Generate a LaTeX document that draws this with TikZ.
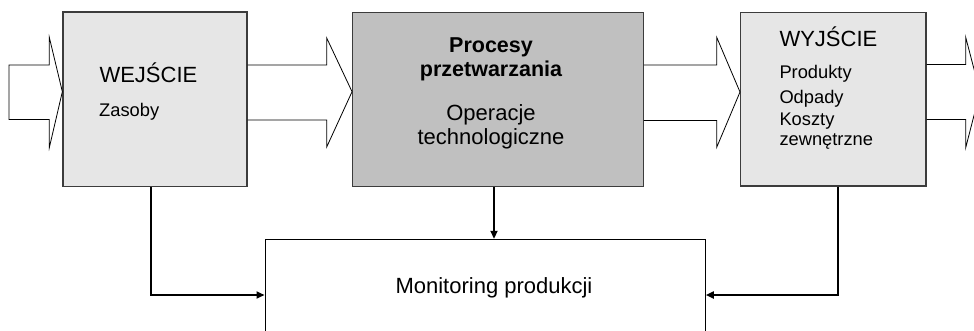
\documentclass[tikz,border=0pt]{standalone}
\usepackage{fontspec}
\setmainfont{Liberation Sans}
\usetikzlibrary{arrows.meta}
\definecolor{lightbox}{RGB}{230,230,230}
\definecolor{midbox}{RGB}{192,192,192}
\definecolor{edgegray}{RGB}{60,60,60}
\begin{document}
\begin{tikzpicture}[x=1pt,y=-1pt,
  blockarrow/.style={draw=black, line width=0.8pt, line join=miter},
  boxstyle/.style={draw=edgegray, line width=1.3pt, rectangle, inner sep=0pt},
  conn/.style={draw=black, line width=1.8pt, -{Triangle[length=8pt,width=7pt]}},
  ltxt/.style={inner sep=0pt, anchor=base west, text=black},
  ctxt/.style={inner sep=0pt, anchor=base, text=black},
  bigf/.style={font=\fontsize{22}{26}\selectfont},
  smallf/.style={font=\fontsize{18.3}{22}\selectfont},
  boldf/.style={font=\bfseries\fontsize{21.5}{26}\selectfont},
]
\path[use as bounding box, clip] (0,0) rectangle (974,330);

% boxes
\node[boxstyle, fill=lightbox, minimum width=184pt, minimum height=174.7pt] (b1) at (155,99.3) {};
\node[boxstyle, fill=midbox, minimum width=290.6pt, minimum height=174pt] (b2) at (498,99.7) {};
\node[boxstyle, fill=lightbox, minimum width=185.3pt, minimum height=173.3pt] (b3) at (833.3,99.3) {};
\node[draw=black, line width=1pt, fill=white, minimum width=440.3pt, minimum height=150pt, inner sep=0pt] (mon) at (485.15,314.3) {};

% block arrows
\draw[blockarrow] (9,65) -- (49.3,65) -- (49.3,37.3) -- (b1.west |- 0,91.7) -- (49.3,147.7) -- (49.3,119.5) -- (9,119.5) -- cycle;
\draw[blockarrow] (b1.east |- 0,65) -- (326.7,65) -- (326.7,38) -- (b2.west |- 0,91.7) -- (326.7,147) -- (326.7,120) -- (b1.east |- 0,120);
\draw[blockarrow] (b2.east |- 0,65) -- (716.7,65) -- (716.7,37.3) -- (b3.west |- 0,92) -- (716.7,147.3) -- (716.7,120.5) -- (b2.east |- 0,120.5);
\draw[blockarrow] (b3.east |- 0,64.5) -- (965.7,64.5) -- (965.7,37.3) -- (980,92) -- (965.7,147.7) -- (965.7,119.5) -- (b3.east |- 0,119.5);

% texts
\node[ltxt, bigf] (t1) at (99.3,82.3) {WEJŚCIE};
\node[ltxt, font=\fontsize{18.3}{22}\selectfont] (t2) at (99,116.7) {Zasoby};

\node[ctxt, boldf] (t3) at (491,52.3) {Procesy};
\node[ctxt, boldf] (t4) at (491,76.7) {przetwarzania};
\node[ctxt, bigf] (t5) at (491,120) {Operacje};
\node[ctxt, bigf] (t6) at (491,144.3) {technologiczne};

\node[ltxt, bigf] (t7) at (779.3,46.7) {WYJŚCIE};
\node[ltxt, smallf] (t8) at (779.3,78.3) {Produkty};
\node[ltxt, smallf] (t9) at (779.3,103.3) {Odpady};
\node[ltxt, smallf] (t10) at (779.3,125) {Koszty};
\node[ltxt, smallf] (t11) at (779.3,145) {zewnętrzne};

\node[ctxt, bigf] (t12) at (494,293.3) {Monitoring produkcji};

% connectors
\coordinate (my) at (0,295);
\draw[conn] ([xshift=-4.3pt]b1.south) |- (mon.west |- my);
\draw[conn] ([xshift=-4pt]b2.south) -- ([xshift=-4pt]b2.south |- mon.north);
\draw[conn] ([xshift=4.7pt]b3.south) |- (mon.east |- my);
\end{tikzpicture}
\end{document}
